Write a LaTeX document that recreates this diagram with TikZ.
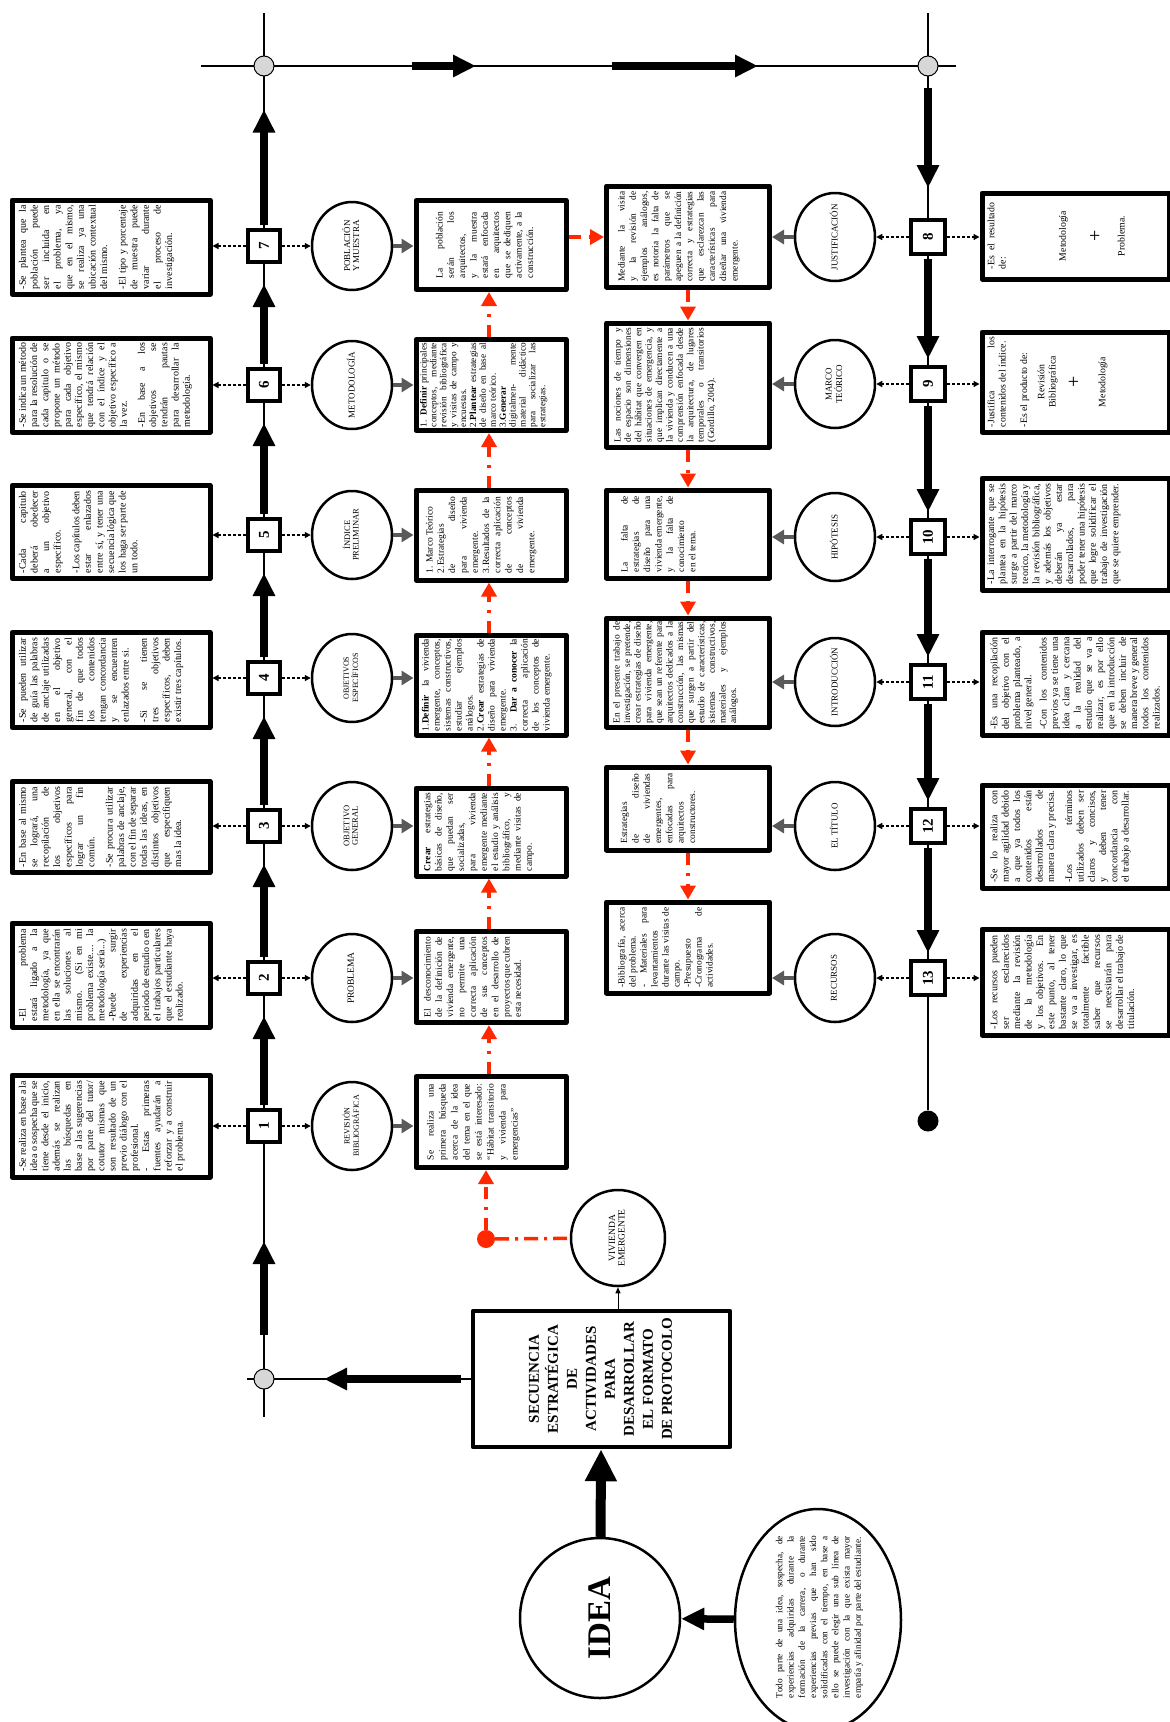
\documentclass[tikz,border=0pt]{standalone}
\usepackage{fontspec}
\setmainfont{Liberation Serif}
\usepackage{graphicx}
\usetikzlibrary{arrows.meta,shapes.geometric,calc}
\definecolor{rl}{RGB}{255,40,0}
\definecolor{ga}{RGB}{90,90,90}
\definecolor{gc}{RGB}{215,215,215}
\newcommand\rt[5]{\rotatebox{90}{\parbox[c][#2pt][t]{#1pt}{\fontsize{#3}{#4}\selectfont\sloppy\hyphenpenalty=10000\exhyphenpenalty=10000 #5}}}
\newcommand\rc[2]{\rotatebox{90}{\fontsize{#1}{#1}\selectfont\begin{tabular}{@{}c@{}}#2\end{tabular}}}
\newcommand\pgap{\par\vspace{7pt}}
\tikzset{
 mline/.style={line width=1.3pt},
 gdot/.style={circle, draw, line width=1pt, fill=gc, minimum size=20pt, inner sep=0},
 bdot/.style={circle, fill=black, minimum size=21pt, inner sep=0},
 tbox/.style={draw, line width=5pt, line join=round, inner sep=0, fill=white},
 nbox/.style={draw, line width=4pt, inner sep=0, minimum size=32pt, fill=white},
 circ/.style={ellipse, draw, line width=2.5pt, minimum width=80pt, minimum height=88pt, inner sep=0},
 clab/.style={inner sep=0},
 big/.style={line width=7.5pt, -{Triangle[width=21pt,length=23pt]}},
 garr/.style={draw=ga, line width=4.5pt, -{Triangle[width=14pt,length=12pt]}},
 dsh/.style={line width=1.3pt, dash pattern=on 3pt off 2pt, -{Triangle[width=6pt,length=6pt]}},
 rarr/.style={draw=rl, line width=3.5pt, dash pattern=on 12pt off 8pt on 3pt off 8pt, -{Triangle[width=15pt,length=14pt]}},
}
\newcommand\nb[1]{\rotatebox{90}{\bfseries\fontsize{15}{15}\selectfont #1}}
\begin{document}
\begin{tikzpicture}[x=1pt,y=-1pt]
\fill[white] (0,0) rectangle (1170,1722);
\useasboundingbox (0,0) rectangle (1170,1722);

% ---------- main frame ----------
\coordinate (TLend) at (201,66);
\coordinate (TRend) at (956,66);
\coordinate (LTop) at (264,13);
\coordinate (RTop) at (928,13);
\coordinate (LBot) at (264,1417);
\coordinate (BLeft) at (247,1379);
\node[bdot] (endR) at (928,1121) {};
\draw[mline] (TLend) -- (TRend);
\draw[mline] (LTop) -- (LBot);
\draw[mline] (RTop) -- (endR);

% ---------- title, idea ----------
\node[tbox, line width=4.5pt, minimum width=257pt, minimum height=136pt] (title) at (601.5,1379)
  {\rotatebox{90}{\bfseries\fontsize{15}{19}\selectfont\begin{tabular}{@{}c@{}}SECUENCIA\\ESTRATÉGICA\\DE\\ACTIVIDADES\\PARA\\DESARROLLAR\\EL FORMATO\\DE PROTOCOLO\end{tabular}}};
\draw[mline] (BLeft) -- (title);
\node[gdot] (gTL) at (264,66) {};
\node[gdot] (gTR) at (928,66) {};
\node[gdot] (gBL) at (264,1379) {};

\node[circle, draw, line width=2.5pt, minimum size=160pt, inner sep=0] (idea) at (600,1618)
  {\rotatebox{90}{\bfseries\fontsize{33}{33}\selectfont IDEA}};
\node[ellipse, draw, line width=2.5pt, minimum width=166pt, minimum height=222pt, inner sep=0] (desc) at (818,1620) {};
\node[inner sep=0] (desct) at (832,1617) {\rt{162}{112}{9.3}{11.2}{Todo parte de una idea, sospecha, de experiencias adquiridas durante la formación de la carrera, o durante experiencias previas que han sido solidificadas con el tiempo, en base a ello se puede elegir una sub línea de investigación con la que exista mayor empatía y afinidad por parte del estudiante.}};
\draw[big, line width=10pt, -{Triangle[width=30pt,length=32pt]}] (idea) -- (title);
\draw[big] (desc) -- (idea);

% vivienda emergente
\node[circ, minimum width=94pt, minimum height=96pt] (viv) at (618,1238) {};
\node[clab] (vivt) at (viv) {\rc{9.5}{VIVIENDA\\EMERGENTE}};
\draw[line width=1pt, -{Triangle[width=5pt,length=6pt]}] (title.north -| viv) -- (viv);
\node[circle, fill=rl, minimum size=18pt, inner sep=0] (rdot) at (486,1239) {};
\draw[rl, line width=3.5pt, dash pattern=on 14pt off 6pt on 3pt off 6pt] (rdot) -- (viv);

% ---------- thick arrows on frame ----------
\coordinate (h1s) at (412,66); \coordinate (h1e) at (476,66);
\coordinate (h2s) at (612,66); \coordinate (h2e) at (758,66);
\draw[big] (h1s) -- (h1e);
\draw[big] (h2s) -- (h2e);
\coordinate (bl0) at (461,1379); \coordinate (bl1) at (324,1379);
\draw[big] (bl0) -- (bl1);

% ---------- left column nodes ----------
\foreach \i/\y in {1/1126,2/978,3/826,4/678,5/535,6/385,7/246}{
  \node[nbox] (n\i) at (264,\y) {\nb{\i}};
  \node[circ] (L\i) at (352,\y) {};
}
\node[clab] at (L1) {\rc{8}{REVISIÓN\\BIBLIOGRÁFICA}};
\node[clab] at (L2) {\rc{9.5}{PROBLEMA}};
\node[clab] at (L3) {\rc{8.5}{OBJETIVO\\GENERAL}};
\node[clab] at (L4) {\rc{8}{OBJETIVOS\\ESPECÍFICOS}};
\node[clab] at (L5) {\rc{8.5}{ÍNDICE\\PRELIMINAR}};
\node[clab] at (L6) {\rc{9}{METODOLOGÍA}};
\node[clab] at (L7) {\rc{9}{POBLACIÓN\\Y MUESTRA}};

% column 1 boxes
\node[tbox, minimum width=198pt, minimum height=102pt] (a1) at (111,1126) {\rt{90}{184}{10}{11.2}{-Se realiza en base a la idea o sospecha que se tiene desde el inicio, además se realizan las búsquedas en base a las sugerencias por parte del tutor/ cotutor mismas que son resultado de un previo diálogo con el profesional.\par - Estas primeras fuentes ayudarán a reforzar y a construir el problema.}};
\node[tbox, minimum width=198pt, minimum height=104pt] (a2) at (111,975) {\rt{92}{184}{10}{11.2}{-El problema estará ligado a la metodología, ya que en ella se encontrarán las soluciones al mismo. (Si en mi problema existe.... la metodología sería...)\par -Puede surgir de experiencias adquiridas en el periodo de estudio o en el trabajos particulares que el estudiante haya realizado.}};
\node[tbox, minimum width=198pt, minimum height=91pt] (a3) at (111,827) {\rt{80}{184}{10}{11.4}{-En base al mismo se logrará, una recopilación de los objetivos específicos para lograr un fin común.\pgap -Se procura utilizar palabras de anclaje, con el fin de separar todas las ideas, en distintos objetivos que especifiquen mas la idea.}};
\node[tbox, minimum width=198pt, minimum height=95pt] (a4) at (111,680) {\rt{84}{184}{10}{11.4}{-Se pueden utilizar de guía las palabras de anclaje utilizadas en el objetivo general, con el fin de que todos los contenidos tengan concordancia y se encuentren enlazados entre si.\pgap -Si se tienen tres objetivos específicos, deben existir tres capítulos.}};
\node[tbox, minimum width=198pt, minimum height=93pt] (a5) at (111,532) {\rt{82}{184}{10}{11.6}{-Cada capitulo deberá obedecer a un objetivo específico.\pgap -Los capítulos deben estar enlazados entre sí, y tener una secuencia lógica que los haga ser parte de un todo.}};
\node[tbox, minimum width=198pt, minimum height=94pt] (a6) at (111,385) {\rt{84}{184}{10}{11.2}{-Se indica un método para la resolución de cada capitulo o se propone un método para cada objetivo específico, el mismo que tendrá relación con el índice y el objetivo específico a la vez.\pgap -En base a los objetivos se tendrán pautas para desarrollar la metodología.}};
\node[tbox, minimum width=198pt, minimum height=94pt] (a7) at (111,247) {\rt{84}{184}{10}{11.6}{-Se plantea que la población puede ser incluida en el problema, ya que en el mismo, se realiza ya una ubicación contextual del mismo.\pgap -El tipo y porcentaje de muestra puede variar durante el proceso de investigación.}};

% column 2 boxes
\node[tbox, minimum width=150pt, minimum height=91pt] (b1) at (491,1122) {\rt{76}{128}{9.5}{12}{Se realiza una primera búsqueda acerca de la idea del tema en el que se está interesado: “Hábitat transitorio y vivienda para emergencias”}};
\node[tbox, minimum width=150pt, minimum height=91pt] (b2) at (491,977) {\rt{80}{134}{9.5}{11.3}{El desconocimiento de la definición de vivienda emergente, no permite una correcta aplicación de sus conceptos en el desarrollo de proyectos que cubren esta necesidad.}};
\node[tbox, minimum width=150pt, minimum height=88pt] (b3) at (491,832) {\rt{78}{134}{9.5}{11.3}{\textbf{Crear} estrategias básicas de diseño, que puedan ser socializadas, para vivienda emergente mediante el estudio y análisis bibliográfico, y mediante visitas de campo.}};
\node[tbox, minimum width=150pt, minimum height=100pt] (b4) at (491,685) {\rt{92}{138}{9.5}{11}{1.\textbf{Definir} la vivienda emergente, conceptos, sistemas constructivos, estudiar ejemplos análogos.\par 2.\textbf{Crear} estrategias de diseño para vivienda emergente.\par 3. \textbf{Dar a conocer} la correcta aplicación de los conceptos de vivienda emergente.}};
\node[tbox, minimum width=150pt, minimum height=90pt] (b5) at (491,535) {\rt{76}{130}{9.5}{11.3}{1. Marco Teórico\par 2.Estrategias de diseño para vivienda emergente.\par 3.Resultados de la correcta aplicación de conceptos de vivienda emergente.}};
\node[tbox, minimum width=150pt, minimum height=91pt] (b6) at (491,385) {\rt{84}{142}{9.3}{9.9}{1. \textbf{Definir} principales conceptos, mediante revisión bibliográfica y visitas de campo y encuestas.\par 2.\textbf{Plantear} estrategias de diseño en base al marco teórico.\par 3.\textbf{Generar} digitalmen- mente material didáctico para socializar las estrategias.}};
\node[tbox, minimum width=150pt, minimum height=89pt] (b7) at (491,245) {\rt{66}{110}{9.5}{11.3}{La población serán los arquitectos, y la muestra estará enfocada en arquitectos que se dediquen activamente, a la construcción.}};

% left connectors
\foreach \i in {1,...,7}{
  \draw[dsh] (n\i.west) -- (n\i.west -| a\i.east);
  \draw[dsh] (n\i.east) -- (L\i.west);
  \draw[garr] (L\i.east) -- (L\i.east -| b\i.west);
}
\coordinate (la0) at (264,1335);
\coordinate (la1) at (264,1241);
\draw[big] (la0) -- (la1);
\draw[mline] (la1) -- (n1);
\foreach \i/\j in {1/2,2/3,3/4,4/5,5/6,6/7}{
  \draw[big, shorten <=3pt, shorten >=20pt] (n\i) -- (n\j);
}
\draw[big, shorten <=3pt, shorten >=33pt] (n7) -- (gTL);

% red chain column 2
\coordinate (rx) at (489,0);
\draw[rarr] (rdot) -- (rdot |- b1.south);
\foreach \i/\j in {1/2,2/3,3/4,4/5,5/6,6/7}{
  \draw[rarr] (b\i.north -| rx) -- (b\j.south -| rx);
}

% ---------- right column nodes ----------
\foreach \i/\y in {8/237,9/384,10/537,11/682,12/826,13/978}{
  \node[nbox, minimum size=34pt] (m\i) at (928,\y) {\nb{\i}};
  \node[circ] (R\i) at (835,\y) {};
}
\node[clab] at (R8) {\rc{9}{JUSTIFICACIÓN}};
\node[clab] at (R9) {\rc{9}{MARCO\\TEÓRICO}};
\node[clab] at (R10) {\rc{9}{HIPÓTESIS}};
\node[clab] at (R11) {\rc{9}{INTRODUCCIÓN}};
\node[clab] at (R12) {\rc{9}{EL TÍTULO}};
\node[clab] at (R13) {\rc{9}{RECURSOS}};

% column 3 boxes
\node[tbox, minimum width=163pt, minimum height=101pt] (c8) at (688,236.5) {\rt{90}{140}{9.4}{11.3}{Mediante la visita y la revisión de ejemplos análogos, es notoria la falta de parámetros que se apeguen a la definición correcta y estrategias que esclarezcan las características para diseñar una vivienda emergente.}};
\node[tbox, minimum width=163pt, minimum height=124pt] (c9) at (688,385) {\rt{114}{148}{9.4}{10.4}{Las nociones de tiempo y de espacio son dimensiones del hábitat que convergen en situaciones de emergencia, y que implican directamente a la vivienda y conducen a una comprensión enfocada desde la arquitectura, de lugares temporales o transitorios (Gordillo, 2004).}};
\node[tbox, minimum width=163pt, minimum height=88pt] (c10) at (688,534) {\rt{76}{134}{9.4}{11.3}{La falta de estrategias de diseño para una vivienda emergente, y la falta de conocimiento en el tema.}};
\node[tbox, minimum width=163pt, minimum height=109pt] (c11) at (688,672.5) {\rt{102}{150}{9.4}{10.6}{En el presente trabajo de investigación, se pretende, crear estrategias de diseño para vivienda emergente, que sean un referente para arquitectos dedicados a la construcción, las mismas que surgen a partir del estudio de características, sistemas constructivos, materiales y ejemplos análogos.}};
\node[tbox, minimum width=163pt, minimum height=83pt] (c12) at (688,808.5) {\rt{70}{134}{9.4}{11.3}{Estrategias de diseño de viviendas emergentes, enfocadas para arquitectos constructores.}};
\node[tbox, minimum width=163pt, minimum height=91pt] (c13) at (688,947.5) {\rt{80}{140}{9.4}{11}{-Bibliografía, acerca del problema.\par - Materiales para levantamientos durante las visitas de campo.\par -Presupuesto\par -Cronograma de actividades.}};

% column 4 boxes
\node[tbox, minimum width=187pt, minimum height=86pt] (d8) at (1075.5,236) {\rt{66}{176}{9.8}{11.3}{-Es el resultado de:\par\vspace{49pt}\centering Metodología\par\vspace{21pt}{\fontsize{20}{20}\selectfont +}\par\vspace{12pt}Problema.}};
\node[tbox, minimum width=187pt, minimum height=100pt] (d9) at (1075.5,382) {\rt{90}{176}{9.8}{11.3}{-Justifica los contenidos del índice.\par\vspace{10pt}-Es el producto de:\par\vspace{6pt}\centering Revisión\\Bibliográfica\par\vspace{10pt}{\fontsize{20}{20}\selectfont +}\par\vspace{14pt}Metodología}};
\node[tbox, minimum width=187pt, minimum height=112pt] (d10) at (1075.5,534) {\rt{100}{176}{10}{11.3}{-La interrogante que se plantea en la hipótesis surge a partir del marco teorico, la metodología y la revisión bibliográfica, y además los objetivos deberán ya estar desarrollados, para poder tener una hipótesis que logre solidificar el trabajo de investigación que se quiere emprender.}};
\node[tbox, minimum width=187pt, minimum height=103pt] (d11) at (1075.5,683.5) {\rt{92}{170}{10}{11.3}{-Es una recopilación del objetivo con el problema planteado, a nivel general.\par\vspace{4pt}-Con los contenidos previos ya se tiene una idea clara y cercana a la realidad del estudio que se va a realizar, es por ello que en la introducción se deben incluir de manera breve y general todos los contenidos realizados.}};
\node[tbox, minimum width=187pt, minimum height=103pt] (d12) at (1075.5,836.5) {\rt{92}{170}{10}{11.3}{-Se lo realiza con mayor agilidad debido a que ya todos los contenidos están desarrollados de manera clara y precisa.\pgap -Los términos utilizados deben ser claros y concisos, y deben tener concordancia con el trabajo a desarrollar.}};
\node[tbox, minimum width=187pt, minimum height=106pt] (d13) at (1075.5,982) {\rt{94}{170}{10}{11.4}{-Los recursos pueden ser esclarecidos mediante la revisión de la metodología y los objetivos. En este punto, al tener bastante claro, lo que se va a investigar, es totalmente factible saber que recursos se necesitarán para desarrollar el trabajo de titulación.}};

% right connectors
\foreach \i in {8,...,13}{
  \draw[dsh] (m\i.west) -- (R\i.east);
  \draw[dsh] (m\i.east) -- (m\i.east -| d\i.west);
  \draw[garr] (R\i.west) -- (R\i.west -| c\i.east);
}
\coordinate (ra0) at (928,88);
\draw[big, shorten >=30pt] (ra0) -- (m8);
\foreach \i/\j in {8/9,9/10,10/11,11/12,12/13}{
  \draw[big, shorten <=3pt, shorten >=6pt] (m\i) -- (m\j);
}

% red chain column 3
\coordinate (rx3) at (688,0);
\coordinate (ry) at (0,237);
\draw[rarr] (b7.east |- ry) -- (c8.west |- ry);
\foreach \i/\j in {8/9,9/10,10/11,11/12,12/13}{
  \draw[rarr] (c\i.south -| rx3) -- (c\j.north -| rx3);
}
\end{tikzpicture}
\end{document}
